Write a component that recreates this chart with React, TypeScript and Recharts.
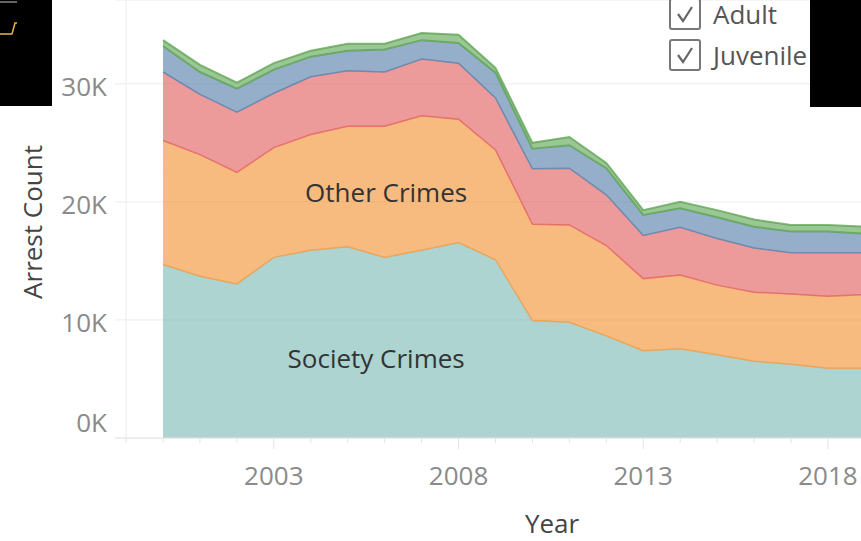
import React from 'react';
import { AreaChart, Area, XAxis, YAxis, CartesianGrid, ReferenceLine, ReferenceDot } from 'recharts';

const years = [2000, 2001, 2002, 2003, 2004, 2005, 2006, 2007, 2008, 2009, 2010, 2011, 2012, 2013, 2014, 2015, 2016, 2017, 2018, 2019];
const societyCrimes = [14700, 13700, 13050, 15300, 15900, 16200, 15300, 15900, 16550, 15100, 9950, 9800, 8650, 7400, 7550, 7050, 6500, 6250, 5900, 5900];
const otherCrimes = [10500, 10300, 9450, 9300, 9800, 10200, 11100, 11400, 10450, 9300, 8150, 8250, 7650, 6100, 6250, 5900, 5850, 5950, 6100, 6250];
const violentCrimes = [5800, 5100, 5100, 4600, 4900, 4700, 4600, 4800, 4750, 4400, 4700, 4800, 4300, 3650, 4050, 3950, 3750, 3500, 3700, 3550];
const propertyCrimes = [2200, 1900, 2000, 2000, 1700, 1700, 1900, 1600, 1700, 2150, 1700, 1950, 2250, 1750, 1600, 1800, 1800, 1800, 1800, 1600];
const drugCrimes = [500, 600, 500, 550, 500, 600, 500, 600, 700, 400, 500, 700, 450, 400, 550, 600, 600, 550, 550, 600];

const tickYears = [1999, 2000, 2001, 2002, 2003, 2004, 2005, 2006, 2007, 2008, 2009, 2010, 2011, 2012, 2013, 2014, 2015, 2016, 2017, 2018, 2019];
const labelYears = [2003, 2008, 2013, 2018];
const yTicks = [0, 10000, 20000, 30000];

const data = years.map((year, i) => ({
  year,
  society: societyCrimes[i],
  other: otherCrimes[i],
  violent: violentCrimes[i],
  property: propertyCrimes[i],
  drug: drugCrimes[i],
}));

const FONT = '"Open Sans", sans-serif';

const YearTick = (props: any) => {
  const { x, y, payload } = props;
  const major = labelYears.includes(payload.value);
  return (
    <g>
      <line x1={x} x2={x} y1={y} y2={y + (major ? 11 : 5)} stroke="#e2e2e2" strokeWidth={1} />
      {major && (
        <text x={x} y={y + 47} textAnchor="middle" fill="#8a8a8a" fontSize={26} fontFamily={FONT}>
          {payload.value}
        </text>
      )}
    </g>
  );
};

// tableau nudges the bottom label up so it stays inside the pane
const CountTick = (props: any) => {
  const { x, y, payload } = props;
  const shift = payload.value === 0 ? -15 : 3;
  return (
    <text x={x} y={y + shift} dy="0.355em" textAnchor="end" fill="#8a8a8a" fontSize={26} fontFamily={FONT}>
      {`${payload.value / 1000}K`}
    </text>
  );
};

const CheckBox = ({ top, text }: { top: number; text: string }) => (
  <div style={{ position: 'absolute', left: 669, top, display: 'flex', alignItems: 'center' }}>
    <svg width={32} height={32}>
      <rect x={1} y={1} width={30} height={30} rx={2} fill="#fff" stroke="#777" strokeWidth={2} />
      <path d="M9 16 L14 23 L23 9" fill="none" stroke="#666" strokeWidth={2.2} />
    </svg>
    <span style={{ marginLeft: 12, fontSize: 26, color: '#555', fontFamily: FONT, lineHeight: '28px' }}>{text}</span>
  </div>
);

export default function App() {
  return (
    <div style={{ position: 'absolute', left: 0, top: 0, width: 861, height: 541, overflow: 'hidden', background: '#fff' }}>
      <AreaChart width={900} height={541} data={data} margin={{ top: 0, right: 20, left: 0, bottom: 0 }}>
        <CartesianGrid vertical={false} stroke="#ececec" />
        <XAxis
          dataKey="year"
          type="number"
          domain={[1998.7, 2019.41]}
          ticks={tickYears}
          interval={0}
          height={103}
          tickSize={0}
          tickMargin={0}
          tickLine={false}
          axisLine={{ stroke: '#e6e6e6' }}
          tick={<YearTick />}
          label={{
            content: () => (
              <text x={552} y={533} textAnchor="middle" fill="#444" fontSize={26} fontFamily={FONT}>
                Year
              </text>
            ),
          }}
        />
        <YAxis
          width={115}
          domain={[0, 37100]}
          ticks={yTicks}
          interval={0}
          axisLine={false}
          tickLine={false}
          tick={<CountTick />}
          label={{
            content: () => (
              <text x={42} y={222} transform="rotate(-90, 42, 222)" textAnchor="middle" fill="#444" fontSize={26} fontFamily={FONT}>
                Arrest Count
              </text>
            ),
          }}
        />
        <ReferenceLine x={1999} stroke="#ececec" />
        <Area type="linear" dataKey="society" stackId="1" fill="#76b7b2" fillOpacity={0.6} stroke="#f28e2b" strokeOpacity={0.6} strokeWidth={1.5} isAnimationActive={false} />
        <Area type="linear" dataKey="other" stackId="1" fill="#f28e2b" fillOpacity={0.6} stroke="#e15759" strokeOpacity={0.7} strokeWidth={1.5} isAnimationActive={false} />
        <Area type="linear" dataKey="violent" stackId="1" fill="#e15759" fillOpacity={0.6} stroke="#4e79a7" strokeOpacity={0.7} strokeWidth={1.5} isAnimationActive={false} />
        <Area type="linear" dataKey="property" stackId="1" fill="#4e79a7" fillOpacity={0.6} stroke="#59a14f" strokeOpacity={0.75} strokeWidth={2} isAnimationActive={false} />
        <Area type="linear" dataKey="drug" stackId="1" fill="#59a14f" fillOpacity={0.6} stroke="#59a14f" strokeOpacity={0.75} strokeWidth={2} isAnimationActive={false} />
        <ReferenceDot x={2006.04} y={20750} r={0} fill="none" stroke="none" label={{ value: 'Other Crimes', position: 'center', fill: '#333', fontSize: 26, fontFamily: FONT }} />
        <ReferenceDot x={2005.77} y={6700} r={0} fill="none" stroke="none" label={{ value: 'Society Crimes', position: 'center', fill: '#333', fontSize: 26, fontFamily: FONT }} />
      </AreaChart>
      <CheckBox top={-2} text="Adult" />
      <CheckBox top={39} text="Juvenile" />
      <div style={{ position: 'absolute', left: 0, top: 0, width: 52, height: 106, background: '#000' }}>
        <svg width={52} height={106}>
          <line x1={0} y1={2} x2={17} y2={2} stroke="#888" strokeWidth={1.5} />
          <polyline points="0,34 12,34 15,23 17,23" fill="none" stroke="#e8b84a" strokeWidth={1.5} />
        </svg>
      </div>
      <div style={{ position: 'absolute', left: 810, top: 0, width: 51, height: 107, background: '#000' }} />
    </div>
  );
}
